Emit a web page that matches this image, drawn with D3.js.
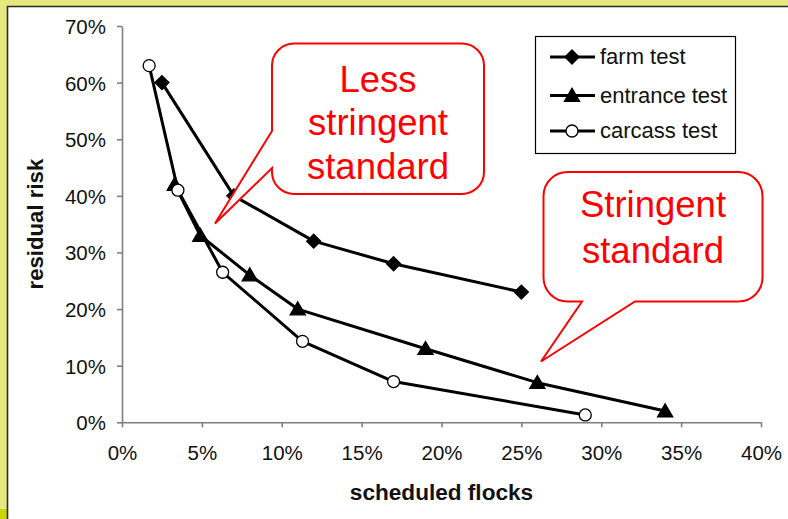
<!DOCTYPE html>
<html>
<head>
<meta charset="utf-8">
<script src="https://cdn.jsdelivr.net/npm/d3@7"></script>
<style>
  html, body { margin: 0; padding: 0; background: #fff; }
  svg { display: block; font-family: "Liberation Sans", Arial, sans-serif; }
</style>
</head>
<body>
<svg id="chart" width="788" height="519"></svg>
<script>
// Residual risk against the share of scheduled flocks, for three testing strategies
const seriesNames = ["farm test", "entrance test", "carcass test"];
const farmX = [2.5, 7, 12, 17, 25];
const farmY = [60, 40, 32, 28, 23];
const entranceX = [3.3, 4.9, 8, 11, 19, 26, 34];
const entranceY = [42, 33, 26, 20, 13, 7, 2];
const carcassX = [1.7, 3.5, 6.3, 11.3, 17, 29];
const carcassY = [63, 41, 26.5, 14.3, 7.2, 1.3];
const xTicks = [0, 5, 10, 15, 20, 25, 30, 35, 40];
const yTicks = [0, 10, 20, 30, 40, 50, 60, 70];
const xTitle = "scheduled flocks";
const yTitle = "residual risk";
const calloutTexts = [["Less", "stringent", "standard"], ["Stringent", "standard"]];

const svg = d3.select("#chart");
const W = 788, H = 519;

// slide frame
svg.append("rect").attr("x", 0).attr("y", 0).attr("width", W).attr("height", H).attr("fill", "#e4ea80");
svg.append("rect").attr("x", 0).attr("y", 509).attr("width", 7).attr("height", 10).attr("fill", "#c9d400");
svg.append("rect").attr("x", 7).attr("y", 6).attr("width", W - 7).attr("height", H - 6).attr("fill", "#fff");
svg.append("path").attr("d", `M7.5,${H} V6.5 H${W}`).attr("fill", "none").attr("stroke", "#2a2a2a").attr("stroke-width", 1.6);

const plot = { left: 122, right: 761, top: 26, bottom: 422.3 };
const x = d3.scaleLinear().domain([0, 40]).range([plot.left, plot.right]);
const y = d3.scaleLinear().domain([0, 70]).range([plot.bottom, plot.top]);
const pct = d => d + "%";

const axisColor = "#7f7f7f";
const gx = svg.append("g").attr("transform", `translate(0,${plot.bottom})`)
  .call(d3.axisBottom(x).tickValues(xTicks).tickFormat(pct).tickSizeInner(5).tickSizeOuter(0).tickPadding(18.5));
const gy = svg.append("g").attr("transform", `translate(${plot.left},0)`)
  .call(d3.axisLeft(y).tickValues(yTicks).tickFormat(pct).tickSizeInner(5).tickSizeOuter(0).tickPadding(11));
[gx, gy].forEach(g => {
  g.select(".domain").attr("stroke", axisColor).attr("stroke-width", 1.6);
  g.selectAll(".tick line").attr("stroke", axisColor).attr("stroke-width", 1.6);
  g.selectAll(".tick text").attr("fill", "#111").attr("font-size", 20.5)
    .attr("font-family", "'Liberation Sans', Arial, sans-serif");
});
gy.selectAll(".tick text").attr("dy", "0.36em");

svg.append("text").attr("x", (plot.left + plot.right) / 2).attr("y", 500)
  .attr("text-anchor", "middle").attr("font-size", 22.6).attr("font-weight", "bold").attr("fill", "#111")
  .text(xTitle);
svg.append("text").attr("transform", `translate(43,${(plot.top + plot.bottom) / 2}) rotate(-90)`)
  .attr("text-anchor", "middle").attr("font-size", 22.2).attr("font-weight", "bold").attr("fill", "#111")
  .text(yTitle);

// marker shapes
const diamond = { draw(ctx, s) { ctx.moveTo(0, -s); ctx.lineTo(s, 0); ctx.lineTo(0, s); ctx.lineTo(-s, 0); ctx.closePath(); } };
const triangle = { draw(ctx, s) { ctx.moveTo(0, -s); ctx.lineTo(s * 1.05, s * 0.8); ctx.lineTo(-s * 1.05, s * 0.8); ctx.closePath(); } };
const circle = { draw(ctx, s) { ctx.arc(0, 0, s, 0, 2 * Math.PI); } };

const series = [
  { name: seriesNames[0], xs: farmX, ys: farmY, shape: diamond, size: 7, fill: "#000" },
  { name: seriesNames[1], xs: entranceX, ys: entranceY, shape: triangle, size: 7.2, fill: "#000" },
  { name: seriesNames[2], xs: carcassX, ys: carcassY, shape: circle, size: 6, fill: "#fff" }
];

const line = d3.line().x(d => x(d[0])).y(d => y(d[1]));
series.forEach(s => {
  const pts = s.xs.map((v, i) => [v, s.ys[i]]);
  const g = svg.append("g");
  g.append("path").attr("d", line(pts)).attr("fill", "none").attr("stroke", "#000").attr("stroke-width", 3)
    .attr("stroke-linejoin", "round");
  g.selectAll("path.m").data(pts).join("path").attr("class", "m")
    .attr("transform", d => `translate(${x(d[0])},${y(d[1])})`)
    .attr("d", d3.symbol().type(s.shape).size(s.size))
    .attr("fill", s.fill).attr("stroke", "#000").attr("stroke-width", 1.3);
});

// legend
const lg = svg.append("g");
lg.append("rect").attr("x", 535.5).attr("y", 36.5).attr("width", 200).attr("height", 117)
  .attr("fill", "#fff").attr("stroke", "#000").attr("stroke-width", 1.2);
const rowY = [57, 95.5, 131];
series.forEach((s, i) => {
  const r = lg.append("g").attr("transform", `translate(0,${rowY[i]})`);
  r.append("line").attr("x1", 550).attr("x2", 595).attr("y1", 0).attr("y2", 0).attr("stroke", "#000").attr("stroke-width", 3);
  r.append("path").attr("transform", "translate(572,0)").attr("d", d3.symbol().type(s.shape).size(s.size))
    .attr("fill", s.fill).attr("stroke", "#000").attr("stroke-width", 1.3);
  r.append("text").attr("x", 600).attr("y", 0).attr("dy", "0.33em").attr("font-size", 22).attr("fill", "#111").text(s.name);
});

// speech-bubble callouts
function bubble(b) {
  const p = d3.path();
  const { x0, y0, x1, y1, r } = b;
  if (b.side === "left") {
    p.moveTo(x0 + r, y0);
    p.lineTo(x1 - r, y0); p.arcTo(x1, y0, x1, y0 + r, r);
    p.lineTo(x1, y1 - r); p.arcTo(x1, y1, x1 - r, y1, r);
    p.lineTo(x0 + r, y1); p.arcTo(x0, y1, x0, y1 - r, r);
    p.lineTo(x0, b.a2); p.lineTo(b.tip[0], b.tip[1]); p.lineTo(x0, b.a1);
    p.lineTo(x0, y0 + r); p.arcTo(x0, y0, x0 + r, y0, r);
  } else {
    p.moveTo(x0 + r, y0);
    p.lineTo(x1 - r, y0); p.arcTo(x1, y0, x1, y0 + r, r);
    p.lineTo(x1, y1 - r); p.arcTo(x1, y1, x1 - r, y1, r);
    p.lineTo(b.a2, y1); p.lineTo(b.tip[0], b.tip[1]); p.lineTo(b.a1, y1);
    p.lineTo(x0 + r, y1); p.arcTo(x0, y1, x0, y1 - r, r);
    p.lineTo(x0, y0 + r); p.arcTo(x0, y0, x0 + r, y0, r);
  }
  p.closePath();
  return p.toString();
}

const bubbles = [
  { x0: 272, y0: 43.5, x1: 484, y1: 194, r: 22, side: "left", a1: 131, a2: 168, tip: [215, 223.5], lines: calloutTexts[0], baselines: [91.5, 135, 178.5] },
  { x0: 543.5, y0: 172, x1: 762.5, y1: 301.5, r: 24, side: "bottom", a1: 582, a2: 635, tip: [541, 361.5], lines: calloutTexts[1], baselines: [216.5, 263] }
];
bubbles.forEach(b => {
  svg.append("path").attr("d", bubble(b)).attr("fill", "#fff").attr("stroke", "#ff0000").attr("stroke-width", 2)
    .attr("stroke-linejoin", "miter");
  const cx = (b.x0 + b.x1) / 2;
  b.lines.forEach((t, i) => {
    svg.append("text").attr("x", cx).attr("y", b.baselines[i]).attr("text-anchor", "middle")
      .attr("font-size", 36.5).attr("fill", "#ff0000").text(t);
  });
});
</script>
</body>
</html>
